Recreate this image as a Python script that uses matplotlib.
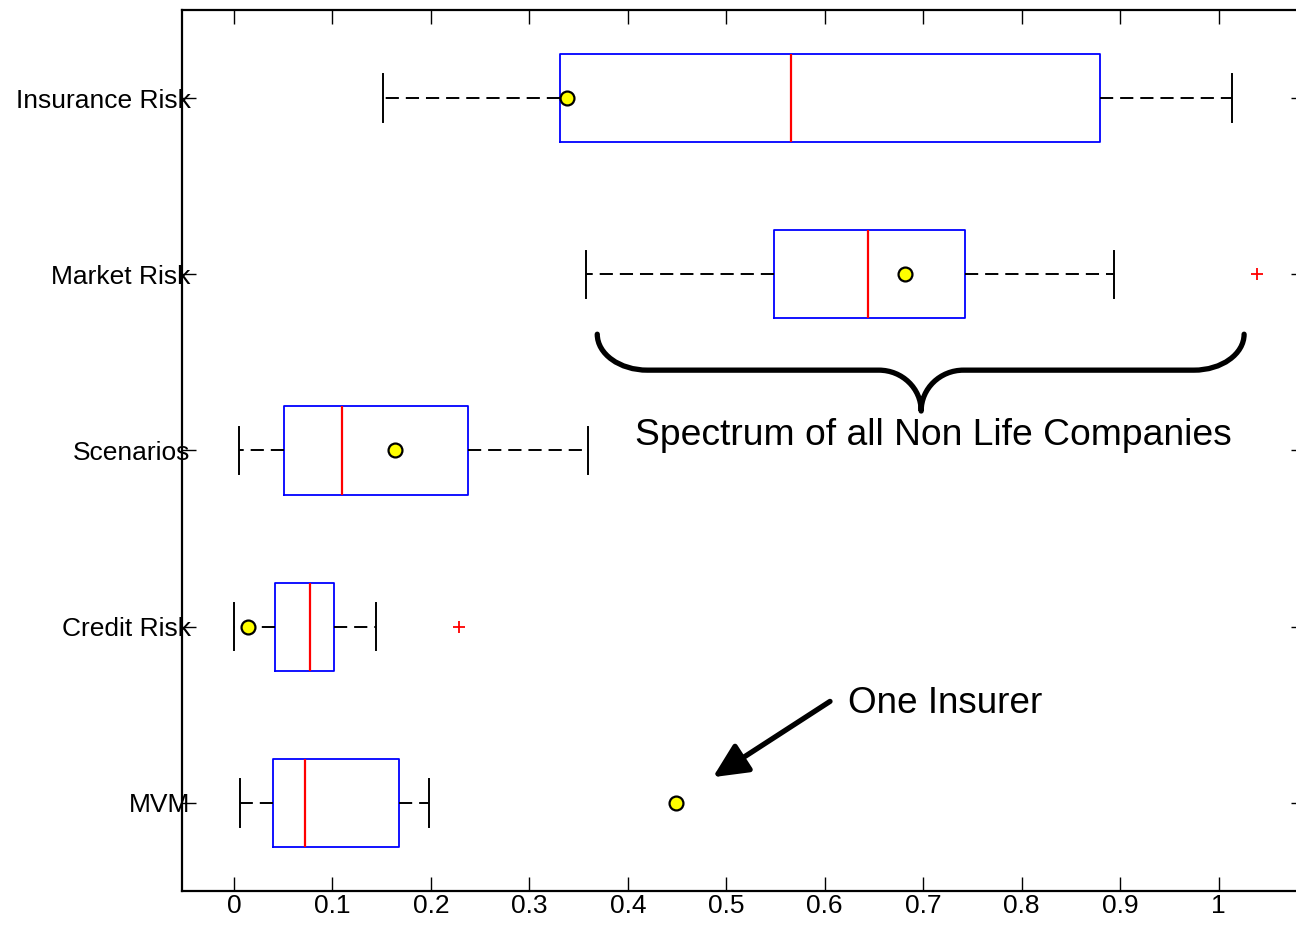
import numpy as np
import matplotlib
matplotlib.use('Agg')
import matplotlib.pyplot as plt
from matplotlib.path import Path
from matplotlib.patches import PathPatch

plt.rcParams['font.family'] = 'Liberation Sans'
plt.rcParams['lines.scale_dashes'] = False

# bottom to top
categories = ['MVM', 'Credit Risk', 'Scenarios', 'Market Risk', 'Insurance Risk']
whislo = [0.006, 0.000, 0.005, 0.358, 0.151]
q1 = [0.040, 0.042, 0.051, 0.549, 0.331]
med = [0.072, 0.077, 0.110, 0.644, 0.566]
q3 = [0.168, 0.102, 0.238, 0.743, 0.880]
whishi = [0.198, 0.144, 0.360, 0.894, 1.014]
outliers = [[], [0.229], [], [1.039], []]
one_insurer = [0.449, 0.014, 0.164, 0.682, 0.338]

xticks = [0, 0.1, 0.2, 0.3, 0.4, 0.5, 0.6, 0.7, 0.8, 0.9, 1]
xticklabels = ['0', '0.1', '0.2', '0.3', '0.4', '0.5', '0.6', '0.7', '0.8', '0.9', '1']

positions = np.arange(1, len(categories) + 1)

fig = plt.figure(figsize=(12.96, 9.26), dpi=100)
ax = fig.add_axes([0.1408, 0.0378, 0.8661, 0.9514])

stats = []
for i in range(len(categories)):
    stats.append(dict(whislo=whislo[i], q1=q1[i], med=med[i], q3=q3[i],
                      whishi=whishi[i], fliers=outliers[i]))

ax.bxp(stats, positions=positions, vert=False, widths=0.5, capwidths=0.27,
       showfliers=True,
       boxprops=dict(color='blue', linewidth=1.3),
       medianprops=dict(color='red', linewidth=1.6),
       whiskerprops=dict(color='black', linewidth=1.4, linestyle=(0, (9.5, 5))),
       capprops=dict(color='black', linewidth=1.4),
       flierprops=dict(marker='+', markeredgecolor='red', markersize=8,
                       markeredgewidth=1.3, linestyle='none'))

ax.plot(one_insurer, positions, linestyle='none', marker='o', markersize=10,
        markerfacecolor='yellow', markeredgecolor='black', markeredgewidth=1.6,
        zorder=5)

ax.set_xlim(-0.0523, 1.0878)
ax.set_ylim(0.5, 5.5)
ax.set_xticks(xticks)
ax.set_xticklabels(xticklabels)
ax.set_yticks(positions)
ax.set_yticklabels(categories)

ax.tick_params(axis='both', direction='in', length=10, width=1, labelsize=19,
               top=True, right=True)
ax.tick_params(axis='x', pad=2.5, labelsize=19)
ax.tick_params(axis='y', pad=-5.8)
for s in ['left', 'bottom', 'top']:
    ax.spines[s].set_linewidth(1.6)
ax.spines['right'].set_visible(False)

# curly brace over the non-life spectrum
bx0, bx1, bxc = 0.369, 1.026, 0.698
by_top, by_mid, by_tip = 3.66, 3.456, 3.224
r_end, r_mid = 0.051, 0.043
k = 0.5523
verts = [
    (bx0, by_top),
    (bx0, by_top + k * (by_mid - by_top)), (bx0 + r_end * (1 - k), by_mid), (bx0 + r_end, by_mid),
    (bxc - r_mid, by_mid),
    (bxc - r_mid * (1 - k), by_mid), (bxc, by_tip - k * (by_tip - by_mid)), (bxc, by_tip),
    (bxc, by_tip - k * (by_tip - by_mid)), (bxc + r_mid * (1 - k), by_mid), (bxc + r_mid, by_mid),
    (bx1 - r_end, by_mid),
    (bx1 - r_end * (1 - k), by_mid), (bx1, by_top + k * (by_mid - by_top)), (bx1, by_top),
]
codes = [Path.MOVETO] + [Path.CURVE4] * 3 + [Path.LINETO] + [Path.CURVE4] * 6 + \
        [Path.LINETO] + [Path.CURVE4] * 3
ax.add_patch(PathPatch(Path(verts, codes), facecolor='none', edgecolor='black',
                       linewidth=3.8, capstyle='round', joinstyle='round'))
ax.text(0.7105, 3.085, 'Spectrum of all Non Life Companies', fontsize=26.8,
        ha='center', va='center')

ax.annotate('', xy=(0.4865, 1.146), xytext=(0.6054, 1.576),
            arrowprops=dict(arrowstyle='-|>,head_length=1.05,head_width=0.5',
                            mutation_scale=20, lw=3.8, color='black',
                            shrinkA=0, shrinkB=0))
ax.text(0.6237, 1.562, 'One Insurer', fontsize=26.6, ha='left', va='center')

plt.savefig('out.png', dpi=100)
